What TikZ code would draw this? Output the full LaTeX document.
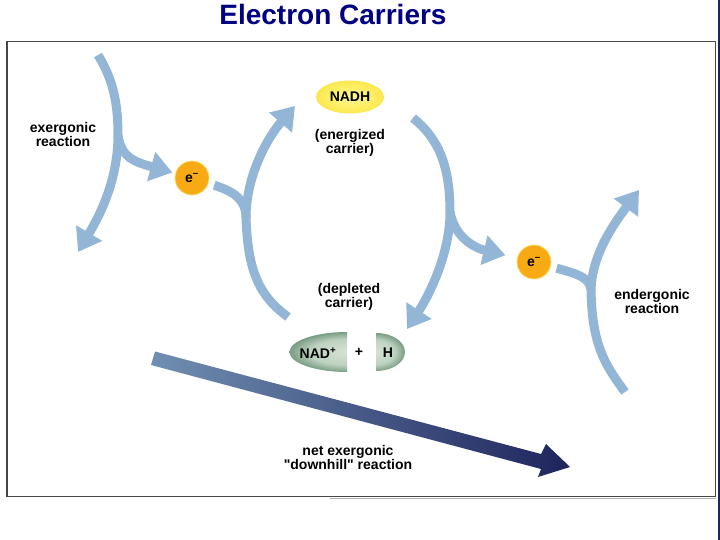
\documentclass[tikz,border=0pt]{standalone}
\usepackage{fontspec}
\setmainfont{Liberation Sans}[Ligatures=TeXOff]
\usepackage{tikz}
\usetikzlibrary{arrows.meta,positioning,shapes.geometric}

\definecolor{flow}{RGB}{147,181,214}
\definecolor{titleblue}{RGB}{0,0,128}
\definecolor{framegray}{RGB}{70,70,75}
\definecolor{edgenavy}{RGB}{30,35,90}
\definecolor{netstart}{RGB}{112,143,178}
\definecolor{netend}{RGB}{30,36,92}
\definecolor{electronfill}{RGB}{248,170,20}
\definecolor{electronedge}{RGB}{252,220,110}
\definecolor{yellowa}{RGB}{255,246,150}
\definecolor{yellowb}{RGB}{253,236,90}
\definecolor{yellowc}{RGB}{240,222,60}
\definecolor{greena}{RGB}{212,226,212}
\definecolor{greenb}{RGB}{190,210,194}
\definecolor{greenc}{RGB}{105,145,116}
\definecolor{greend}{RGB}{70,112,84}
\pgfdeclareradialshading{yellowglow}{\pgfpoint{0bp}{0bp}}{color(0bp)=(yellowa); color(20bp)=(yellowb); color(35bp)=(yellowc); color(50bp)=(yellowc)}
\pgfdeclareradialshading{greenglow}{\pgfpoint{0bp}{0bp}}{color(0bp)=(greena); color(16bp)=(greenb); color(27bp)=(greenc); color(35bp)=(greend); color(50bp)=(greend)}

\begin{document}
\begin{tikzpicture}[x=1pt,y=-1pt]
	\tikzstyle{label}=[font=\bfseries\fontsize{14}{14}\selectfont, align=center, inner sep=0pt]
	\tikzstyle{electron}=[circle, minimum size = 34pt, inner sep=0pt, fill=electronfill, draw=electronedge, line width=0.8pt, font=\bfseries\fontsize{14}{14}\selectfont]
	\tikzstyle{connect}=[-{Triangle[length=22pt,width=29pt]}, line width=9pt, draw=flow]
	\tikzstyle{stem}=[line width=9pt, draw=flow]
	\useasboundingbox (0,0) rectangle (720,540);
	\draw[line width=1.3pt, draw=framegray] (7,41.5) rectangle (715.5,496.5);
	\draw[line width=1.5pt, draw=edgenavy] (719,0) -- (719,540);
	\draw[line width=0.8pt, draw=gray!60] (330,498) -- (716,498);

	\node[font=\bfseries\fontsize{28}{30}\selectfont, text=titleblue, inner sep=0pt] (title) at (333,14) {Electron Carriers};

	\node[electron] (e1) at (192,178) {e\textsuperscript{–}};
	\node[electron] (e2) at (534,262) {e\textsuperscript{–}};
	\node[ellipse, minimum width=68pt, minimum height=33pt, inner sep=0pt, shading=yellowglow, font=\bfseries\fontsize{14}{14}\selectfont] (nadh) at (350,97) {NADH};
	\node[label] (energized) [below=15pt of nadh] {(energized\\carrier)};
	\node[label] (exergonic) at (63,134) {exergonic\\reaction};
	\node[label] (endergonic) at (652,301) {endergonic\\reaction};

	% carrier halves
	\begin{scope}
		\clip (280,325) rectangle (347,380);
		\shade[shading=greenglow] (347,352) ellipse [x radius=57.5, y radius=20];
	\end{scope}
	\begin{scope}
		\clip (376,325) rectangle (415,380);
		\shade[shading=greenglow] (376,352) ellipse [x radius=29, y radius=19];
	\end{scope}
	\node[label] (nad) at (318,353) {NAD\textsuperscript{+}};
	\node[label] (plus) at (359,352) {+};
	\node[label] (h) at (388,353) {H};
	\node[label] (depleted) at (349,297) {(depleted\\carrier)};
	\node[label] (net) at (348,457) {net exergonic\\"downhill" reaction};

	% forks
	\coordinate (exstart) at (98,55);
	\coordinate (exfork) at (118,135);
	\coordinate (exend) at (78,252);
	\coordinate (upfork) at (246,218);
	\coordinate (uptip) at (295,106);
	\coordinate (depleteend) at (288,317);
	\coordinate (redstart) at (413,118);
	\coordinate (redfork) at (450,212);
	\coordinate (redend) at (407,329);
	\coordinate (enfork) at (591,290);
	\coordinate (entip) at (639,190);
	\coordinate (enend) at (625,392);

	\draw[stem] (exstart) .. controls (112,78) and (118,100) .. (exfork);
	\draw[connect] (exfork) .. controls (118,180) and (100,215) .. (exend);
	\draw[connect, shorten >=3pt] (exfork) .. controls (121,158) and (135,162) .. (e1);
	\draw[stem, shorten <=6pt] (e1) .. controls (235,192) and (246,200) .. (upfork) .. controls (248,270) and (258,295) .. (depleteend);
	\draw[connect] (upfork) .. controls (246,175) and (268,137) .. (uptip);
	\draw[stem] (redstart) .. controls (438,138) and (450,165) .. (redfork);
	\draw[connect] (redfork) .. controls (450,255) and (428,297) .. (redend);
	\draw[connect, shorten >=12pt] (redfork) .. controls (455,238) and (475,248) .. (e2);
	\draw[stem, shorten <=6pt] (e2) .. controls (578,274) and (590,278) .. (enfork) .. controls (592,345) and (605,365) .. (enend);
	\draw[connect] (enfork) .. controls (592,255) and (613,225) .. (entip);

	% net arrow
	\coordinate (netstart) at (153,358);
	\coordinate (nettip) at (570,467);
	\shade[left color=netstart, right color=netend] (155,351.5) -- (541,454) -- (546,444) -- (nettip) -- (538,477) -- (541,469) -- (151,365) -- cycle;
\end{tikzpicture}
\end{document}
